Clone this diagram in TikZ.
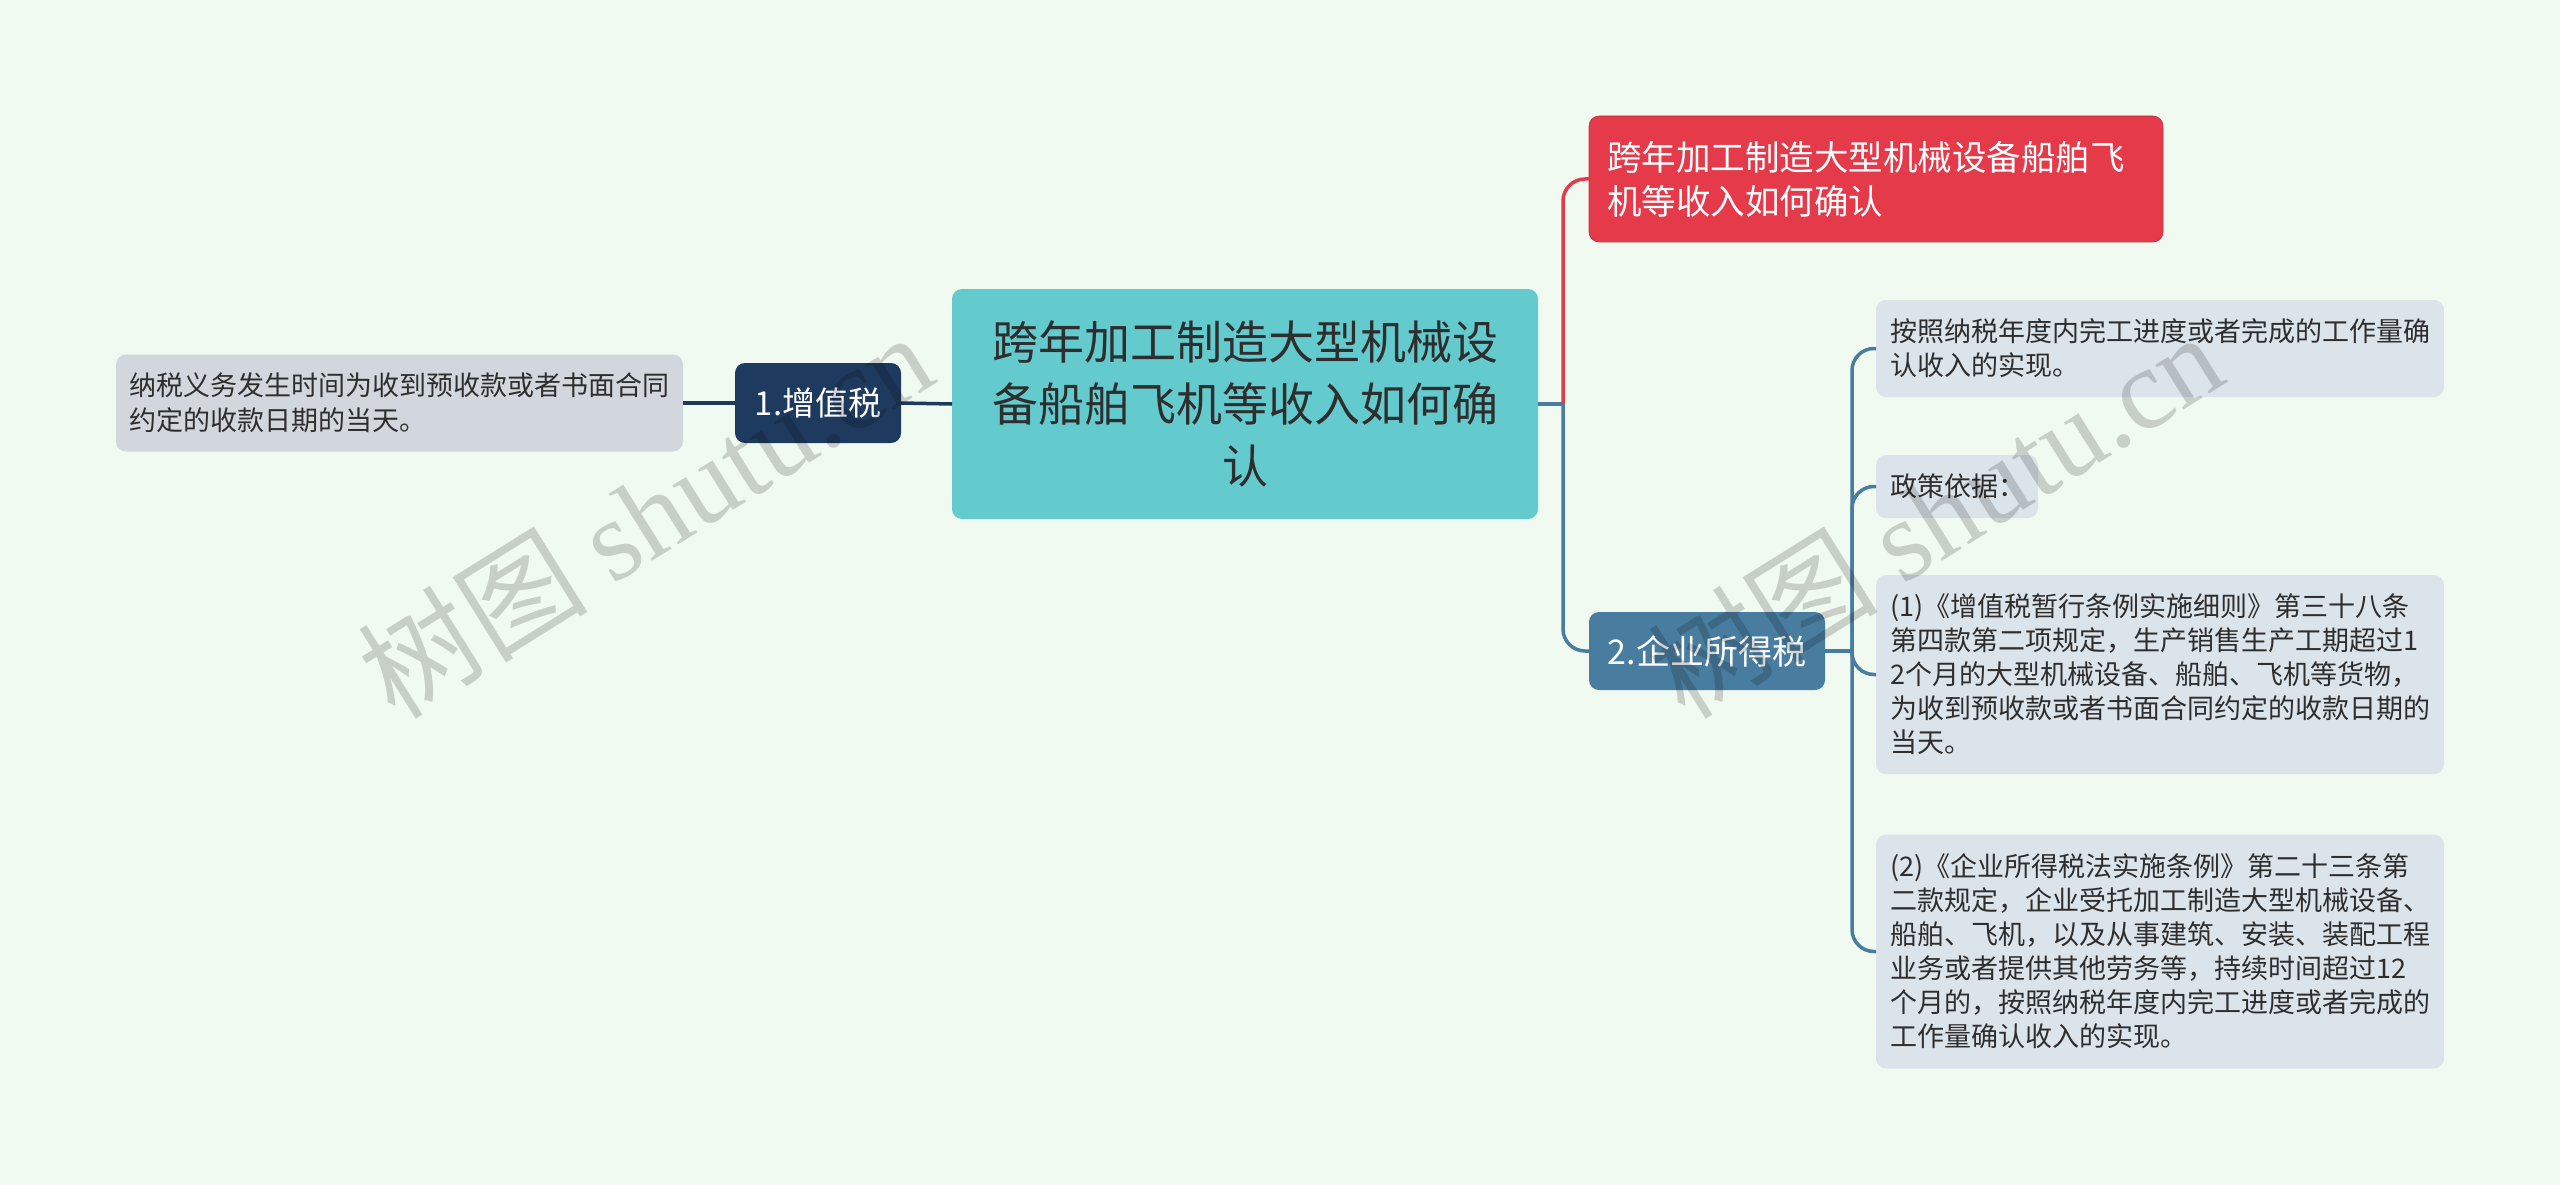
\documentclass[tikz,border=0pt]{standalone}
\usepackage{fontspec}
\setmainfont{Noto Sans CJK SC}
\newfontfamily\wmserif{Liberation Serif}
\usetikzlibrary{positioning}
\definecolor{bgc}{HTML}{F0FAF0}
\definecolor{centerc}{HTML}{63CBCE}
\definecolor{navyc}{HTML}{1F3A5F}
\definecolor{steelc}{HTML}{497DA0}
\definecolor{redc}{HTML}{E43A4A}
\definecolor{leftleafc}{HTML}{D2D6DD}
\definecolor{leafc}{HTML}{DCE4EB}
\definecolor{txtc}{HTML}{2E2E2E}
\tikzset{
  box/.style={rounded corners=10pt, inner ysep=0pt, outer sep=0pt},
  leafbox/.style={box, fill=leafc, text=txtc, anchor=west, align=left,
    text width=540pt, inner xsep=14pt, font=\fontsize{27}{34}\selectfont},
  conn/.style={line width=3.5pt},
  wmark/.style={text=black, text opacity=0.17, rotate=32, font=\fontsize{115}{115}\selectfont}
}
\begin{document}
\begin{tikzpicture}[x=1pt,y=-1pt]
\fill[bgc] (0,0) rectangle (2560,1185);
\useasboundingbox (0,0) rectangle (2560,1185);

% central
\node[box, fill=centerc, text=txtc, align=center, minimum width=586pt, minimum height=230pt,
  font=\fontsize{46}{62}\selectfont] (root) at (1245,404)
  {跨年加工制造大型机械设\\备船舶飞机等收入如何确\\认};

% left branch
\node[box, fill=navyc, text=white, minimum width=166pt, minimum height=80pt,
  font=\fontsize{33}{40}\selectfont] (vat) at (818,403) {1.增值税};
\node[box, fill=leftleafc, text=txtc, anchor=west, align=left, text width=541pt, inner xsep=13pt,
  minimum height=97pt, font=\fontsize{27}{35}\selectfont] (vatleaf) at (116,403)
  {纳税义务发生时间为收到预收款或者书面合同\\约定的收款日期的当天。};

% right branch
\node[box, fill=redc, draw=redc!85!black, line width=0.6pt, text=white, anchor=west, align=left,
  text width=538pt, inner xsep=18pt, minimum height=126pt,
  font=\fontsize{34.5}{44}\selectfont] (red) at (1589,179)
  {跨年加工制造大型机械设备船舶飞\\机等收入如何确认};
\node[box, fill=steelc, text=white, minimum width=236pt, minimum height=78pt,
  font=\fontsize{34}{40}\selectfont] (cit) at (1707,651) {2.企业所得税};

\node[leafbox, minimum height=97pt] (l1) at (1876,348.5)
  {按照纳税年度内完工进度或者完成的工作量确\\认收入的实现。};
\node[leafbox, text width=134pt, minimum height=63pt] (l2) at (1876,486.5)
  {政策依据：};
\node[leafbox, minimum height=199pt] (l3) at (1876,674.5)
  {(1)《增值税暂行条例实施细则》第三十八条\\第四款第二项规定，生产销售生产工期超过1\\2个月的大型机械设备、船舶、飞机等货物，\\为收到预收款或者书面合同约定的收款日期的\\当天。};
\node[leafbox, minimum height=234pt] (l4) at (1876,951.5)
  {(2)《企业所得税法实施条例》第二十三条第\\二款规定，企业受托加工制造大型机械设备、\\船舶、飞机，以及从事建筑、安装、装配工程\\业务或者提供其他劳务等，持续时间超过12\\个月的，按照纳税年度内完工进度或者完成的\\工作量确认收入的实现。};

% connectors
\coordinate (jR) at (1563,404);
\coordinate (jB) at (1852,651);
\draw[conn, navyc] (root.west) -- (vat.east);
\draw[conn, navyc] (vat.west) -- (vatleaf.east);
\draw[conn, steelc] (root.east) -- (jR);
\draw[conn, redc, rounded corners=22pt] (jR) |- (red.west);
\draw[conn, steelc, rounded corners=22pt] (jR) |- (cit.west);
\draw[conn, steelc] (cit.east) -- (jB);
\draw[conn, steelc, rounded corners=22pt] (jB) |- (l1.west);
\draw[conn, steelc, rounded corners=22pt] (jB) |- (l2.west);
\draw[conn, steelc, rounded corners=22pt] (jB) |- (l3.west);
\draw[conn, steelc, rounded corners=22pt] (jB) |- (l4.west);

% watermarks
\node[wmark] (wm1) at (645,514) {树图 {\wmserif shutu.cn}};
\node[wmark] (wm2) at (1935,514) {树图 {\wmserif shutu.cn}};
\end{tikzpicture}
\end{document}
